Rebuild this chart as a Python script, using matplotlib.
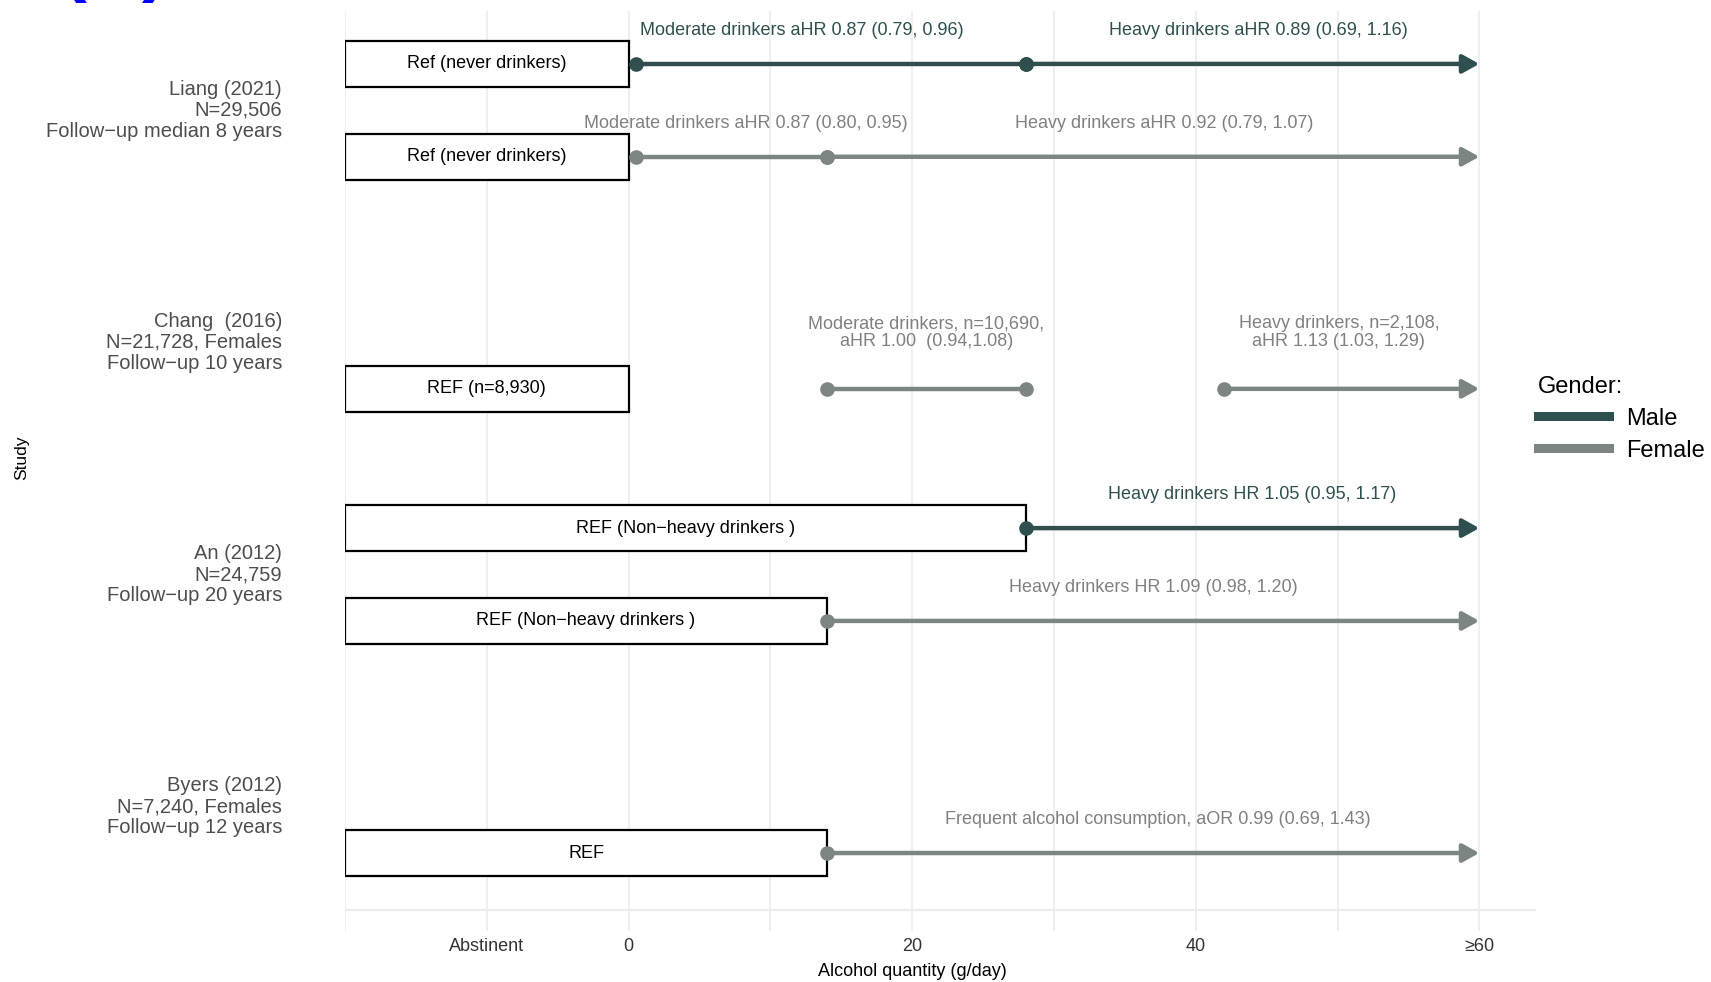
import matplotlib
matplotlib.use('Agg')
import matplotlib.pyplot as plt
from matplotlib.lines import Line2D
from matplotlib.patches import Rectangle
from matplotlib.transforms import blended_transform_factory

# ---- data ----
study_labels = ['Liang (2021)\nN=29,506\nFollow\u2212up median 8 years',
                'Chang  (2016)\nN=21,728, Females\nFollow\u2212up 10 years',
                'An (2012)\nN=24,759\nFollow\u2212up 20 years',
                'Byers (2012)\nN=7,240, Females\nFollow\u2212up 12 years']
study_y = [8.0, 5.5, 3.0, 0.5]

row_y      = [8.5, 7.5, 5.0, 3.5, 2.5, 0.0]
row_gender = ['Male', 'Female', 'Female', 'Male', 'Female', 'Female']
ref_start  = -20
ref_end    = [0, 0, 0, 28, 14, 14]
ref_text   = ['Ref (never drinkers)', 'Ref (never drinkers)', 'REF (n=8,930)',
              'REF (Non\u2212heavy drinkers )', 'REF (Non\u2212heavy drinkers )', 'REF']

seg_row   = [0, 0, 1, 1, 2, 2, 3, 4, 5]
seg_start = [0.5, 28, 0.5, 14, 14, 42, 28, 14, 14]
seg_end   = [28, 60, 14, 60, 28, 60, 60, 60, 60]
seg_open  = [False, True, False, True, False, True, True, True, True]   # arrow = ">=60"
seg_text  = ['Moderate drinkers aHR 0.87 (0.79, 0.96)',
             'Heavy drinkers aHR 0.89 (0.69, 1.16)',
             'Moderate drinkers aHR 0.87 (0.80, 0.95)',
             'Heavy drinkers aHR 0.92 (0.79, 1.07)',
             'Moderate drinkers, n=10,690,\naHR 1.00  (0.94,1.08)',
             'Heavy drinkers, n=2,108,\naHR 1.13 (1.03, 1.29)',
             'Heavy drinkers HR 1.05 (0.95, 1.17)',
             'Heavy drinkers HR 1.09 (0.98, 1.20)',
             'Frequent alcohol consumption, aOR 0.99 (0.69, 1.43)']

x_ticks  = [-10, 0, 20, 40, 60]
x_labels = ['Abstinent', '0', '20', '40', '\u226560']
x_grid   = [-20, -10, 0, 10, 20, 30, 40, 50, 60]

# layout: nudge of each label from its segment midpoint (x units)
label_dx = [-2.0, 0.4, 1.0, 0.8, 0, -0.9, 0, 0, 0.3]

line_col = {'Male': '#2F4F4F', 'Female': '#7D8583'}
text_col = {'Male': '#2F4F4F', 'Female': '#808080'}
FONT = ['Liberation Sans', 'DejaVu Sans']

W, H = 1711, 982
fig = plt.figure(figsize=(W/100, H/100), dpi=100)
ax = fig.add_axes([345/W, 1-931/H, (1536-345)/W, (931-11)/H])
ax.set_xlim(-20, 64); ax.set_ylim(-0.84, 9.07)
for s in ax.spines.values(): s.set_visible(False)
for g in x_grid:
    ax.axvline(g, color='#EBEBEB', lw=1.1, zorder=0)
ax.axhline(-0.61, color='#EBEBEB', lw=1.6, zorder=0)

ax.set_xticks(x_ticks, x_labels, family=FONT, fontsize=13, color='#333333')
ax.set_yticks([])
ax.tick_params(axis='x', length=0, pad=5)

# reference boxes
for y, xe, t in zip(row_y, ref_end, ref_text):
    ax.add_patch(Rectangle((ref_start, y-0.25), xe-ref_start, 0.5, facecolor='white',
                           edgecolor='black', lw=1.6, zorder=3))
    ax.text((ref_start+xe)/2, y, t, ha='center', va='center', fontsize=13,
            family=FONT, color='black', zorder=4)

# exposure segments
for r, x0, x1, op, t, dx in zip(seg_row, seg_start, seg_end, seg_open, seg_text, label_dx):
    y = row_y[r]; c = line_col[row_gender[r]]
    if op:
        ax.annotate('', xy=(x1, y), xytext=(x0, y), zorder=4,
                    arrowprops=dict(arrowstyle='-|>,head_length=0.9,head_width=0.5',
                                    color=c, lw=3.2, shrinkA=0, shrinkB=0,
                                    mutation_scale=11))
        ax.plot([x0], [y], 'o', color=c, ms=9.5, zorder=5)
    else:
        ax.plot([x0, x1], [y, y], '-o', color=c, lw=3.2, ms=9.5, zorder=5)
    off = 0.42 if '\n' in t else 0.27
    ax.text((x0+x1)/2 + dx, y+off, t, ha='center', va='bottom', fontsize=13,
            family=FONT, color=text_col[row_gender[r]], linespacing=1.05)

# study labels
tr = blended_transform_factory(fig.transFigure, ax.transData)
for y, t in zip(study_y, study_labels):
    ax.text(282/W, y, t, transform=tr, ha='right', va='center', fontsize=14.5,
            family=FONT, color='#4D4D4D', linespacing=1.13)

ax.set_xlabel('Alcohol quantity (g/day)', family=FONT, fontsize=13, color='black')
ax.xaxis.set_label_coords(40/84, -0.035)
fig.text(22/W, 1-458/H, 'Study', rotation=90, ha='center', va='center',
         fontsize=12.5, family=FONT, color='black')

# cut-off panel tag at the very top
fig.text(60/W, 1+13/H, '(B)', color='#0000FF', fontsize=56, fontweight='bold',
         family=FONT, ha='left', va='baseline')

handles = [Line2D([], [], color=line_col[g], lw=6.5) for g in ['Male', 'Female']]
leg = fig.legend(handles, ['Male', 'Female'], title='Gender:', loc='upper left',
                 bbox_to_anchor=(1526/W, 1-364/H), frameon=False, handlelength=3.0,
                 handletextpad=0.75, labelspacing=0.42, borderpad=0, alignment='left',
                 prop={'family': FONT, 'size': 17}, title_fontproperties={'family': FONT, 'size': 17})

fig.savefig('out.png', dpi=100)
